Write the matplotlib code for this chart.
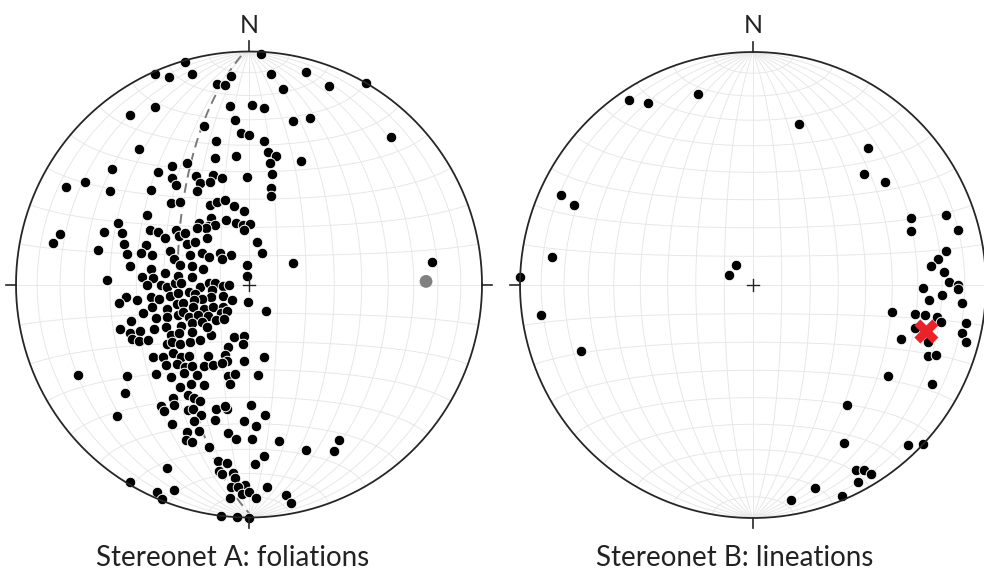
import numpy as np
import matplotlib
matplotlib.use("Agg")
import matplotlib.pyplot as plt

plt.rcParams['font.family'] = ['Lato', 'DejaVu Sans']

W, H, DPI = 984, 579, 100

# ---------------- Stereonet A: poles to foliation (trend, plunge; degrees) -------------
fol_trend = [3, 344, 336, 339, 345, 355, 351, 353, 6, 15, 22, 30, 10, 332, 325, 354, 1, 5, 355, 15,
             20, 344, 44, 357, 0, 6, 347, 321, 8, 12, 10, 23, 12, 13, 14, 11, 298, 302, 285, 282,
             345, 354, 333, 327, 321, 310, 334, 342, 346, 359, 324, 324, 334, 339, 331, 304, 314, 316, 320, 334,
             339, 344, 349, 356, 304, 295, 330, 340, 348, 354, 1, 355, 321, 325, 330, 323, 317, 290, 292, 299,
             300, 299, 307, 305, 309, 318, 283, 288, 291, 303, 308, 284, 286, 287, 293, 289, 279, 272, 279, 278,
             274, 274, 270, 270, 268, 271, 277, 263, 261, 262, 263, 264, 262, 262, 257, 253, 255, 255, 250, 248,
             247, 253, 297, 304, 305, 318, 328, 286, 288, 288, 314, 353, 344, 278, 271, 267, 272, 272, 267, 268,
             263, 260, 262, 252, 253, 254, 246, 228, 182, 254, 247, 248, 241, 238, 229, 242, 239, 233, 225, 219,
             223, 216, 236, 231, 23, 64, 83, 148, 251, 248, 247, 245, 243, 239, 245, 243, 241, 237, 235, 234,
             233, 229, 226, 233, 230, 228, 223, 220, 226, 222, 218, 226, 220, 216, 233, 214, 210, 229, 214, 209,
             230, 217, 225, 221, 196, 186, 186, 199, 210, 199, 196, 168, 215, 209, 204, 199, 184, 210, 193, 189,
             191, 174, 204, 206, 242, 225, 203, 216, 214, 212, 206, 204, 195, 190, 191, 179, 173, 200, 194, 202,
             209, 182, 177, 203, 199, 188, 185, 202, 200, 179, 169, 194, 150, 161, 153, 175, 204, 190, 187, 178,
             189, 188, 185, 184, 181, 185, 183, 175, 204, 202, 200, 185, 182, 180, 178, 170, 169, 187, 183, 180,
             211]
fol_plunge = [1, 1, 1, 5, 7, 11, 14, 15, 10, 6, 9, 0, 16, 15, 12, 24, 24, 25, 30, 28,
              25, 30, 13, 35, 36, 38, 37, 26, 42, 43, 46, 42, 50, 55, 58, 75, 12, 18, 17, 15,
              43, 44, 41, 39, 38, 24, 47, 49, 51, 52, 43, 46, 50, 51, 52, 29, 41, 50, 52, 59,
              59, 59, 62, 64, 46, 38, 63, 66, 68, 69, 69, 71, 62, 65, 66, 65, 63, 34, 41, 50,
              53, 56, 58, 60, 61, 68, 34, 43, 51, 64, 66, 45, 50, 54, 60, 62, 47, 39, 55, 60,
              52, 56, 54, 59, 61, 64, 65, 55, 58, 62, 65, 46, 43, 50, 55, 60, 64, 51, 55, 59,
              63, 46, 67, 70, 73, 75, 78, 65, 69, 73, 77, 83, 87, 70, 66, 73, 76, 78, 81, 83,
              69, 71, 77, 76, 73, 70, 80, 82, 84, 66, 65, 69, 72, 75, 78, 66, 69, 72, 76, 78,
              73, 75, 66, 69, 78, 73, 22, 79, 41, 44, 48, 53, 57, 62, 44, 46, 49, 57, 60, 54,
              56, 58, 61, 47, 50, 54, 55, 57, 49, 52, 53, 44, 47, 51, 35, 46, 49, 30, 41, 45,
              64, 68, 69, 64, 71, 72, 69, 67, 61, 64, 62, 64, 55, 57, 59, 61, 63, 53, 57, 58,
              54, 58, 51, 45, 18, 21, 45, 36, 35, 39, 40, 41, 44, 45, 46, 47, 43, 40, 40, 37,
              32, 41, 39, 32, 34, 36, 34, 29, 29, 34, 32, 29, 24, 26, 21, 27, 15, 24, 24, 24,
              20, 19, 20, 18, 15, 14, 14, 14, 3, 1, 7, 9, 11, 12, 9, 9, 5, 0, 0, 0,
              1]

# pole to the best-fit girdle (grey dot) -> dashed great circle
girdle_pole_trend = 89
girdle_pole_plunge = 25

# ---------------- Stereonet B: lineations (trend, plunge; degrees) -------------
lin_trend = [326, 330, 344, 16, 40, 45, 52, 295, 294, 278, 272, 262, 249, 319, 292, 124, 119, 142, 150, 136,
             133, 151, 149, 148, 152, 163, 157, 170, 67, 71, 70, 75, 80, 82, 84, 86, 89, 90, 91, 91,
             93, 95, 95, 101, 100, 100, 100, 101, 105, 108, 110, 100, 103, 105, 112, 111]
lin_plunge = [5, 11, 16, 29, 24, 33, 29, 10, 17, 14, 0, 9, 22, 81, 81, 31, 13, 35, 23, 5,
              0, 10, 8, 5, 5, 10, 2, 7, 27, 29, 13, 10, 17, 21, 24, 19, 17, 13, 13, 28,
              20, 25, 11, 39, 30, 26, 21, 19, 29, 22, 33, 8, 9, 6, 20, 17]

# mean lineation (red cross)
mean_lin_trend = 105
mean_lin_plunge = 24

titles = ["Stereonet A: foliations", "Stereonet B: lineations"]
north_label = "N"


def project(trend, plunge):
    """Lower-hemisphere equal-area (Schmidt) projection, unit primitive circle."""
    t = np.radians(np.asarray(trend, dtype=float))
    p = np.radians(np.asarray(plunge, dtype=float))
    r = np.sqrt(2.0) * np.sin((np.pi / 2 - p) / 2.0)
    return r * np.sin(t), r * np.cos(t)


def lambert(lon, lat):
    lon = np.radians(lon)
    lat = np.radians(lat)
    k = np.sqrt(2.0 / (1.0 + np.cos(lat) * np.cos(lon)))
    return k * np.cos(lat) * np.sin(lon) / np.sqrt(2), k * np.sin(lat) / np.sqrt(2)


def plane_curve(dipdir, dip, n=361):
    strike = np.radians(dipdir - 90.0)
    dd = np.radians(dipdir)
    d = np.radians(dip)
    a = np.linspace(0, np.pi, n)
    vx = np.cos(a) * np.sin(strike) + np.sin(a) * np.sin(dd) * np.cos(d)
    vy = np.cos(a) * np.cos(strike) + np.sin(a) * np.cos(dd) * np.cos(d)
    vz = -np.sin(a) * np.sin(d)
    plunge = np.degrees(np.arcsin(np.clip(-vz, -1, 1)))
    trend = np.degrees(np.arctan2(vx, vy))
    return project(trend, plunge)


fig = plt.figure(figsize=(W / DPI, H / DPI), dpi=DPI)
fig.patch.set_facecolor('white')

R_PX = 233.0
L = 1.12


def make_net(cx, cy):
    half = L * R_PX
    ax = fig.add_axes([(cx - half) / W, (H - cy - half) / H, 2 * half / W, 2 * half / H])
    ax.set_xlim(-L, L)
    ax.set_ylim(-L, L)
    ax.axis('off')
    grid_kw = dict(color='#e6e6e6', lw=0.65, zorder=1)
    lat = np.linspace(-90, 90, 181)
    for lon in range(-80, 81, 10):
        x, y = lambert(np.full_like(lat, lon), lat)
        ax.plot(x, y, **grid_kw)
    lon = np.linspace(-90, 90, 181)
    for la in range(-80, 81, 10):
        x, y = lambert(lon, np.full_like(lon, la))
        ax.plot(x, y, **grid_kw)
    th = np.linspace(0, 2 * np.pi, 721)
    ax.plot(np.cos(th), np.sin(th), color='#262626', lw=1.3, zorder=5)
    tk = dict(color='#262626', lw=1.2, zorder=5, clip_on=False)
    ax.plot([0, 0], [1, 1.045], **tk)
    ax.plot([0, 0], [-1, -1.045], **tk)
    ax.plot([1, 1.045], [0, 0], **tk)
    ax.plot([-1, -1.045], [0, 0], **tk)
    c = 0.027
    ax.plot([-c, c], [0, 0], color='#222222', lw=1.0, zorder=6)
    ax.plot([0, 0], [-c, c], color='#222222', lw=1.0, zorder=6)
    return ax


# ---- Net A
axA = make_net(249, 284.5)
gx, gy = plane_curve(girdle_pole_trend + 180, 90 - girdle_pole_plunge)
axA.plot(gx, gy, color='#7a7a7a', lw=1.4, ls=(0, (5, 3)), zorder=2)
x, y = project(fol_trend, fol_plunge)
axA.scatter(x, y, s=58, c='black', edgecolors='white', linewidths=0.7, zorder=3)
px, py = project([girdle_pole_trend], [girdle_pole_plunge])
axA.scatter(px, py, s=85, c='#808080', edgecolors='none', zorder=4)

# ---- Net B
axB = make_net(753, 285)
x, y = project(lin_trend, lin_plunge)
axB.scatter(x, y, s=58, c='black', edgecolors='white', linewidths=0.7, zorder=3)
mx, my = project([mean_lin_trend], [mean_lin_plunge])
axB.scatter(mx, my, s=300, marker='X', c='#eb2227', edgecolors='none', zorder=7)

# ---- Labels
for cx in (249, 753):
    fig.text(cx / W, 1 - 33 / H, north_label, ha='center', va='baseline', fontsize=18, color='#222222')
fig.text(232.5 / W, 1 - 566 / H, titles[0], ha='center', va='baseline', fontsize=20, color='#222222')
fig.text(735 / W, 1 - 566 / H, titles[1], ha='center', va='baseline', fontsize=20, color='#222222')

fig.savefig('out.png', dpi=DPI, facecolor='white')
